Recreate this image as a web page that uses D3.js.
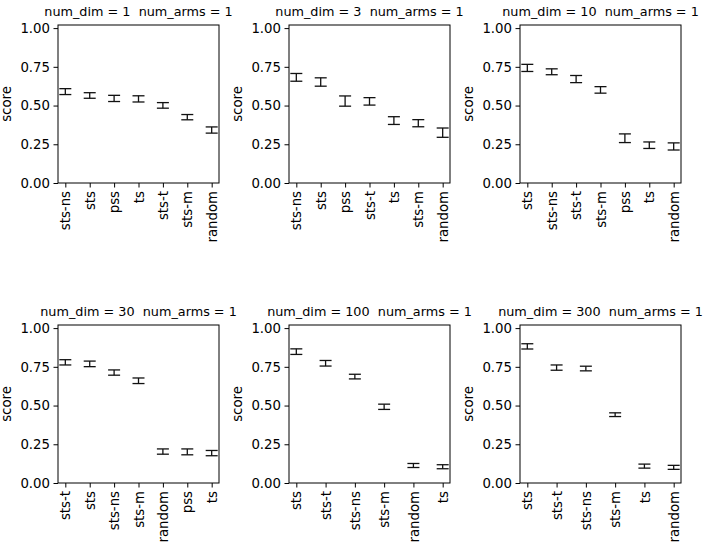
<!DOCTYPE html>
<html>
<head>
<meta charset="utf-8">
<script src="https://cdn.jsdelivr.net/npm/d3@7"></script>
<style>
  body { margin: 0; background: #fff; }
  text { font-family: "DejaVu Sans", sans-serif; fill: #000; }
</style>
</head>
<body>
<div id="chart"></div>
<script>
// facet values
const numDims = [1, 3, 10, 30, 100, 300];
const numArms = 1;

const cats_d1 = ["sts-ns", "sts", "pss", "ts", "sts-t", "sts-m", "random"];
const score_d1 = [0.590, 0.565, 0.546, 0.543, 0.501, 0.425, 0.342];
const err_d1 = [0.019, 0.018, 0.020, 0.020, 0.018, 0.017, 0.020];

const cats_d3 = ["sts-ns", "sts", "pss", "sts-t", "ts", "sts-m", "random"];
const score_d3 = [0.682, 0.652, 0.529, 0.527, 0.403, 0.386, 0.325];
const err_d3 = [0.025, 0.027, 0.033, 0.024, 0.025, 0.023, 0.030];

const cats_d10 = ["sts", "sts-ns", "sts-t", "sts-m", "pss", "ts", "random"];
const score_d10 = [0.743, 0.718, 0.671, 0.601, 0.289, 0.244, 0.236];
const err_d10 = [0.023, 0.019, 0.023, 0.021, 0.028, 0.021, 0.023];

const cats_d30 = ["sts-t", "sts", "sts-ns", "sts-m", "random", "pss", "ts"];
const score_d30 = [0.779, 0.769, 0.713, 0.660, 0.203, 0.201, 0.193];
const err_d30 = [0.017, 0.018, 0.017, 0.018, 0.017, 0.019, 0.017];

const cats_d100 = ["sts", "sts-t", "sts-ns", "sts-m", "random", "ts"];
const score_d100 = [0.848, 0.773, 0.687, 0.492, 0.113, 0.105];
const err_d100 = [0.018, 0.018, 0.015, 0.017, 0.013, 0.013];

const cats_d300 = ["sts", "sts-t", "sts-ns", "sts-m", "ts", "random"];
const score_d300 = [0.882, 0.745, 0.739, 0.441, 0.109, 0.101];
const err_d300 = [0.017, 0.017, 0.015, 0.012, 0.013, 0.013];

const yTicks = [0, 0.25, 0.5, 0.75, 1.0];

const panels = [
  { dim: numDims[0], cats: cats_d1, score: score_d1, err: err_d1 },
  { dim: numDims[1], cats: cats_d3, score: score_d3, err: err_d3 },
  { dim: numDims[2], cats: cats_d10, score: score_d10, err: err_d10 },
  { dim: numDims[3], cats: cats_d30, score: score_d30, err: err_d30 },
  { dim: numDims[4], cats: cats_d100, score: score_d100, err: err_d100 },
  { dim: numDims[5], cats: cats_d300, score: score_d300, err: err_d300 },
];

const width = 708;
const height = 549;
const colLeft = [58, 289, 520];
const rowTop = [25, 325];
const pw = 161;
const ph = 158;
const capHalf = 6;

const svg = d3.select("#chart")
  .append("svg")
  .attr("width", width)
  .attr("height", height);

const y = d3.scaleLinear().domain([0, 1.02]).range([ph, 0]);

panels.forEach((p, k) => {
  const g = svg.append("g")
    .attr("transform", `translate(${colLeft[k % 3]}, ${rowTop[Math.floor(k / 3)]})`);

  // matplotlib-like 5% margins around the category positions
  const x = d3.scalePoint()
    .domain(p.cats)
    .range([0, pw])
    .padding(0.05 * (p.cats.length - 1));

  const rows = p.cats.map((c, i) => ({ cat: c, v: p.score[i], e: p.err[i] }));

  // y axis
  const yAxis = g.append("g")
    .call(d3.axisLeft(y).tickValues(yTicks).tickFormat(d3.format(".2f")).tickSize(4.5).tickPadding(3.5));
  yAxis.select(".domain").remove();
  yAxis.selectAll("line").attr("stroke", "#000").attr("stroke-width", 1);
  yAxis.selectAll("text").style("font-size", "13.3px");

  // x axis
  const xAxis = g.append("g")
    .attr("transform", `translate(0, ${ph})`)
    .call(d3.axisBottom(x).tickSize(4.5).tickPadding(3.5));
  xAxis.select(".domain").remove();
  xAxis.selectAll("line").attr("stroke", "#000").attr("stroke-width", 1);
  xAxis.selectAll("text")
    .style("font-size", "13.3px")
    .attr("transform", "rotate(-90)")
    .attr("text-anchor", "end")
    .attr("x", -8)
    .attr("y", 0)
    .attr("dy", "0.35em");

  // frame
  g.append("rect")
    .attr("width", pw)
    .attr("height", ph)
    .attr("fill", "none")
    .attr("stroke", "#000")
    .attr("stroke-width", 1);

  // error bars
  const bars = g.selectAll(".eb").data(rows).enter().append("g").attr("class", "eb");
  bars.append("line")
    .attr("x1", d => x(d.cat)).attr("x2", d => x(d.cat))
    .attr("y1", d => y(d.v - d.e)).attr("y2", d => y(d.v + d.e));
  bars.append("line")
    .attr("x1", d => x(d.cat) - capHalf).attr("x2", d => x(d.cat) + capHalf)
    .attr("y1", d => y(d.v - d.e)).attr("y2", d => y(d.v - d.e));
  bars.append("line")
    .attr("x1", d => x(d.cat) - capHalf).attr("x2", d => x(d.cat) + capHalf)
    .attr("y1", d => y(d.v + d.e)).attr("y2", d => y(d.v + d.e));
  bars.selectAll("line").attr("stroke", "#111").attr("stroke-width", 1.3);

  // y label
  g.append("text")
    .attr("transform", `translate(-47, ${ph / 2}) rotate(-90)`)
    .attr("text-anchor", "middle")
    .style("font-size", "13.3px")
    .text("score");

  // title
  g.append("text")
    .attr("x", pw / 2)
    .attr("y", -9)
    .attr("text-anchor", "middle")
    .style("font-size", "12.8px")
    .style("white-space", "pre")
    .attr("xml:space", "preserve")
    .text(`num_dim = ${p.dim}  num_arms = ${numArms}`);
});
</script>
</body>
</html>
